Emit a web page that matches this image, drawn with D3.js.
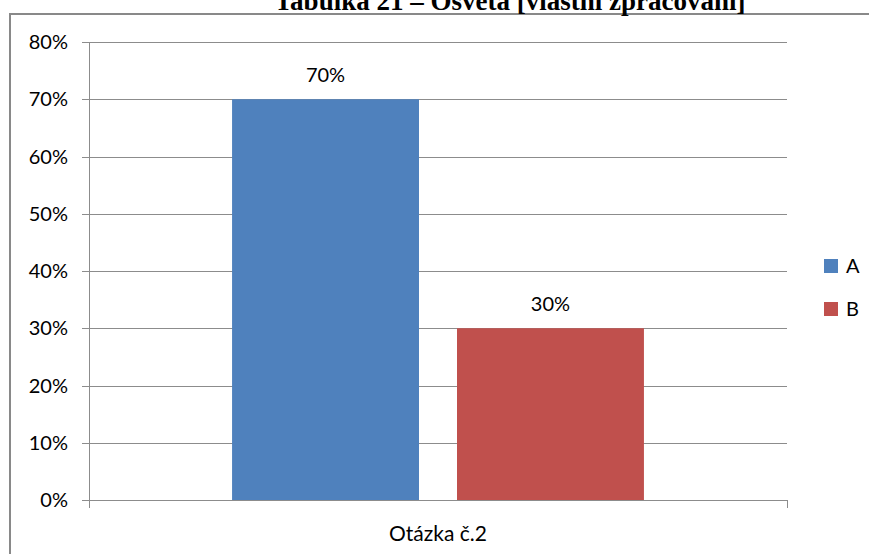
<!DOCTYPE html>
<html><head><meta charset="utf-8">
<script src="https://cdn.jsdelivr.net/npm/d3@7"></script>
<style>body{margin:0;background:#fff}svg{display:block}</style>
</head><body>
<svg id="c" width="869" height="554"></svg>
<script>
const title = "Tabulka 21 – Osvěta [vlastní zpracování]";
const categories = ["Otázka č.2"];
const series = ["A", "B"];
const values = [0.70, 0.30];
const colors = ["#4F81BD", "#C0504D"];
const yTicks = [0, 0.1, 0.2, 0.3, 0.4, 0.5, 0.6, 0.7, 0.8];

const svg = d3.select("#c");
const font = "Lato, 'Open Sans', sans-serif";
const L = 89, R = 787, T = 42, B = 500;

// outer frame
svg.append("path").attr("d", `M10,554 L10,14 L869,14`).attr("fill", "none")
  .attr("stroke", "#898989").attr("stroke-width", 2);

svg.append("text").attr("x", 510).attr("y", 10).attr("text-anchor", "middle")
  .attr("font-family", "'Liberation Serif', 'Times New Roman', serif").attr("font-weight", "bold")
  .attr("font-size", 27).attr("fill", "#000").text(title);

const y = d3.scaleLinear().domain([0, 0.8]).range([B, T]);
const x0 = d3.scaleBand().domain(categories).range([L, R]);
const x1 = d3.scaleBand().domain(series).range([x0(categories[0]), x0(categories[0]) + x0.bandwidth()])
  .paddingInner(0.169).paddingOuter(0.636);

// gridlines
svg.append("g").selectAll("line").data(yTicks).join("line")
  .attr("x1", L - 7).attr("x2", R).attr("y1", d => Math.round(y(d)) + 0.5).attr("y2", d => Math.round(y(d)) + 0.5)
  .attr("stroke", "#8c8c8c").attr("stroke-width", 1);

// y axis line
svg.append("line").attr("x1", L + 0.5).attr("x2", L + 0.5).attr("y1", T).attr("y2", B + 8)
  .attr("stroke", "#8c8c8c");
// category ticks
svg.append("line").attr("x1", R + 0.5).attr("x2", R + 0.5).attr("y1", B).attr("y2", B + 8)
  .attr("stroke", "#8c8c8c");

// y labels
svg.append("g").selectAll("text").data(yTicks).join("text")
  .attr("x", 68).attr("y", d => y(d)).attr("dy", "0.35em").attr("text-anchor", "end")
  .attr("font-family", font).attr("font-size", 20).attr("fill", "#000")
  .text(d => d3.format(".0%")(d));

// bars
svg.append("g").selectAll("rect").data(values).join("rect")
  .attr("x", (d, i) => x1(series[i])).attr("width", x1.bandwidth())
  .attr("y", d => y(d)).attr("height", d => B - y(d))
  .attr("fill", (d, i) => colors[i]);

// data labels
svg.append("g").selectAll("text").data(values).join("text")
  .attr("x", (d, i) => x1(series[i]) + x1.bandwidth() / 2).attr("y", d => y(d) - 17)
  .attr("text-anchor", "middle").attr("font-family", font).attr("font-size", 20).attr("fill", "#000")
  .text(d => d3.format(".0%")(d));

// category label
svg.append("text").attr("x", x0(categories[0]) + x0.bandwidth() / 2).attr("y", 541)
  .attr("text-anchor", "middle").attr("font-family", font).attr("font-size", 21).attr("fill", "#000")
  .text(categories[0]);

// legend
const lg = svg.append("g").selectAll("g").data(series).join("g")
  .attr("transform", (d, i) => `translate(824,${259 + i * 43})`);
lg.append("rect").attr("width", 14).attr("height", 14).attr("fill", (d, i) => colors[i]);
lg.append("text").attr("x", 22).attr("y", 7).attr("dy", "0.35em")
  .attr("font-family", font).attr("font-size", 20).attr("fill", "#000").text(d => d);
</script>
</body></html>
